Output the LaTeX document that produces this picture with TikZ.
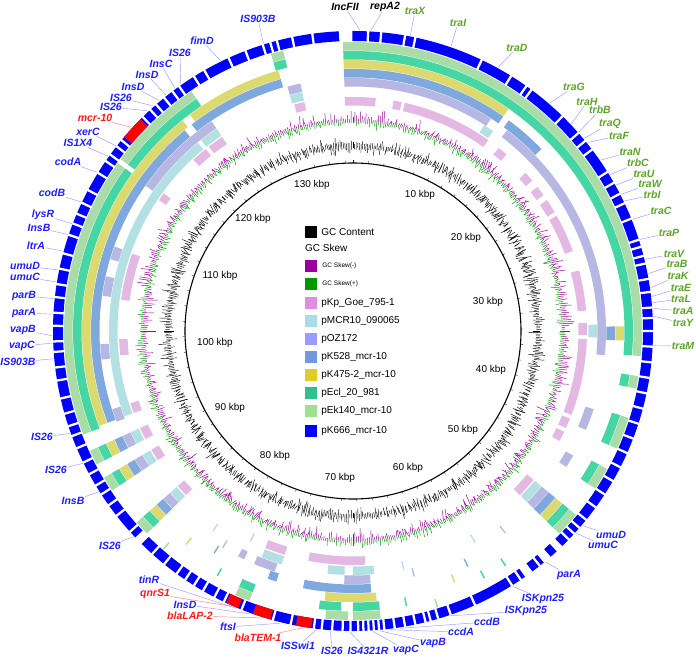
\documentclass[tikz,border=0pt]{standalone}
\usepackage{fontspec}
\setmainfont{Liberation Sans}
\usetikzlibrary{positioning}

\definecolor{refblue}{HTML}{0000FF}
\definecolor{ekgreen}{HTML}{A9DCA6}
\definecolor{eclteal}{HTML}{45D6A4}
\definecolor{kyellow}{HTML}{DCDA6E}
\definecolor{ksteel}{HTML}{7FA8DE}
\definecolor{ozlav}{HTML}{B7B7E3}
\definecolor{mcrcyan}{HTML}{B3E0E3}
\definecolor{kppink}{HTML}{E3B8E3}
\definecolor{lgpink}{HTML}{DD8FDD}
\definecolor{lgcyan}{HTML}{A8DDE8}
\definecolor{lglav}{HTML}{9B9BFF}
\definecolor{lgsteel}{HTML}{7299E0}
\definecolor{lgyellow}{HTML}{E0CC22}
\definecolor{lgteal}{HTML}{2EC18D}
\definecolor{lggreen}{HTML}{9EE08E}
\definecolor{skneg}{HTML}{990099}
\definecolor{skpos}{HTML}{009900}
\definecolor{lblblue}{HTML}{1E1EFF}
\definecolor{lblgreen}{HTML}{5FA52A}
\definecolor{lblred}{HTML}{FF1A1A}
\definecolor{leadblue}{HTML}{9A9AFF}
\definecolor{leadred}{HTML}{FF7F7F}

% band of a ring: colour, inner r, outer r, from, to (degrees clockwise from top)
\newcommand{\band}[5]{\fill[#1] ({90-(#4)}:#3) arc[start angle={90-(#4)}, end angle={90-(#5)}, radius=#3]
  -- ({90-(#5)}:#2) arc[start angle={90-(#5)}, end angle={90-(#4)}, radius=#2] -- cycle;}

\begin{document}
\begin{tikzpicture}
[x=1pt, y=1pt,
lab/.style={font=\bfseries\itshape\fontsize{10.5}{12}\selectfont, inner sep=0.5pt},
blab/.style={lab, text=lblblue},
glab/.style={lab, text=lblgreen},
rlab/.style={lab, text=lblred},
klab/.style={lab, text=black},
lead/.style={draw=leadblue, line width=0.45pt},
rlead/.style={draw=leadred, line width=0.45pt},
kbp/.style={font=\fontsize{10}{12}\selectfont},
sq/.style={minimum size=12pt, inner sep=0pt},
lgtxt/.style={font=\fontsize{10}{12}\selectfont, inner sep=1pt},
smtxt/.style={font=\fontsize{6.5}{8}\selectfont, inner sep=1pt},
skn/.style={draw=skneg, line width=0.5pt},
skp/.style={draw=skpos, line width=0.5pt},
gcl/.style={draw=black, line width=0.45pt}]

\fill[white] (-353,-325) rectangle (343,331);
\useasboundingbox (-353,-325) rectangle (343,331);

% comparison rings, outside in
\foreach \c/\ri/\ro/\segs in {
 ekgreen/280.5/289/{-16.5/-14, -2/95, 99/101.5, 107.5/114, 118.5/123, 129.5/134.5, 174.5/180, 181/185.5, 201/204, 225.5/228.5, 236.5/239.5, 242.5/245.5, 249/305.5, 306.5/326},
 eclteal/271.5/280/{-16.5/-14, -2/95, 99/101.5, 107.5/114, 118.5/123, 129.5/134.5, 174.5/180, 182.5/187, 201/204, 225.5/228.5, 236.5/239.5, 242.5/245.5, 249/305.5, 306.5/326},
 kyellow/262.5/271/{-2/35, 89/92, 129.5/134.5, 175/186, 225.5/228.5, 236.5/239.5, 242.5/245.5, 249.5/321, 323/344},
 ksteel/253.5/262/{-2/35, 36.5/46, 89/92, 129.5/134.5, 176/191, 197/199, 225.5/228.5, 236.5/239.5, 242.5/245.5, 249.5/320, 322/344},
 ozlav/244.5/253/{-15/-12, -2/33, 37.5/95.5, 108/113, 119.5/122.5, 129.5/134.5, 176/182, 198/203, 205.5/207, 225.5/228.5, 236.5/239.5, 242.5/245.5, 249/252, 263.5/267, 278/282.5, 286.5/289.5, 305/326},
 mcrcyan/235.5/244/{-15/-12, 32.5/35, 88.5/91.5, 129.5/134.5, 175/180, 182/186, 197/202, 225.5/228.5, 236.5/239.5, 242.5/245.5, 249.5/320.5, 321.5/326},
 kppink/225.5/234/{-14.5/-12, -2/5.6, 10/12, 12.8/35.3, 38.5/41, 47.5/50, 52/54.5, 56/59.5, 60.5/70, 75/85, 88/91, 92/111, 112/114.5, 115.5/118, 129.5/134.5, 177/191, 197/202, 225.5/228.5, 236.5/239.5, 242.5/245.5, 249.5/252, 264/268, 277.7/289.3, 304/306, 317/321, 322/326}}
{\foreach \s/\e in \segs {\band{\c}{\ri}{\ro}{\s}{\e}}}

% small hits
\foreach \c/\ri/\ro/\g in {ozlav/244.5/253/143, mcrcyan/235.5/244/150, eclteal/271.5/280/147,
 eclteal/271.5/280/152, kyellow/262.5/271/158, ksteel/253.5/262/154, ekgreen/280.5/289/163,
 ozlav/244.5/253/166, mcrcyan/235.5/244/168, eclteal/271.5/280/169, ksteel/253.5/262/212,
 eclteal/271.5/280/209, mcrcyan/235.5/244/215, kyellow/262.5/271/218, ekgreen/280.5/289/221,
 ozlav/244.5/253/211, kppink/225.5/234/206}
{\band{\c}{\ri}{\ro}{\g-0.15}{\g+0.15}}

% reference plasmid pK666_mcr-10
\band{refblue}{290}{300}{0}{360}
\foreach \g in {2.9, 5.4, 10, 12, 25.4, 31.8, 35.3, 36.5, 44.3, 48.7, 50.7, 52.8, 58, 60.4, 62.8,
 64.8, 68, 72.3, 73.7, 75.5, 77, 80, 82.5, 85.5, 87.5, 90, 93, 96, 99, 102, 105, 108, 111, 114,
 117, 120, 123, 126, 129, 131, 132.5, 134, 137, 141.5, 146, 148, 156, 161, 163.5, 165, 166, 168,
 170, 172, 174, 175, 176, 177, 178, 179, 180.5, 182, 184, 186, 187.5, 192, 195.5, 201.8, 205.5,
 207.5, 210, 212, 214, 216, 219, 222, 228, 232, 234.5, 237, 239, 241.5, 244, 247, 249.5, 251.5,
 254, 257, 260.5, 263, 266, 268, 271, 273.5, 276.5, 279, 282, 285, 288.7, 291, 293, 295.3, 298,
 301.8, 304.5, 306, 308, 309.5, 315.5, 317.5, 319, 321, 323, 324.6, 328, 330.3, 335.5, 339,
 342.5, 344, 345.3, 348.3, 352.2}
{\band{white}{289}{301}{\g-0.22}{\g+0.22}}
\foreach \s/\e in {357.3/359.9, 224.8/226.5, 138.8/140.5, 143.3/145, 135.8/136.8}
{\band{white}{289}{301}{\s}{\e}}
\foreach \s/\e in {310.3/314.9, 202.5/205, 196/199.5, 188/191}
{\band{red}{290}{300}{\s}{\e}}

% GC skew and GC content
\pgfmathsetseed{137}
\foreach \a in {0,0.5,...,359.5}{
 \pgfmathsetmacro\skw{(\a<112 || \a>282) ? 1 : -1}
 \draw[skn] ({90-\a}:210) -- ({90-\a}:{210+\skw*(1.5+12*rnd*rnd)});
 \draw[skp] ({90-\a}:210) -- ({90-\a}:{210-\skw*(1.5+8*rnd*rnd)});
 \draw[gcl] ({90-\a}:{185-1.5-9*rnd*rnd}) -- ({90-\a}:{185+1.5+9*rnd*rnd});
}

% backbone circle and scale
\draw[line width=1.1pt] (0,0) circle[radius=168];
\foreach \k in {0,2,...,136} \draw[line width=0.3pt] ({90-\k/137*360}:168) -- ({90-\k/137*360}:170.5);
\foreach \x/\y/\k in {67/136/10, 113/93/20, 135/29/30, 138/-39/40, 110/-99/50, 55/-137/60,
 -13/-147/70, -78/-125/80, -123/-77/90, -138/-12/100, -133/55/110, -100/112/120, -41/146/130}
 \node[kbp] (k\k) at (\x,\y) {\k\ kbp};

% legend
\node[sq, fill=black] (gcsq) at (-42,99) {};
\node[lgtxt, right=3pt of gcsq] (gctx) {GC Content};
\node[lgtxt, anchor=west] (skewtx) at (-49,83) {GC Skew};
\node[sq, fill=skneg] (sknsq) at (-42,65) {};
\node[smtxt, right=4pt of sknsq] (skntx) {GC Skew(-)};
\node[sq, fill=skpos] (skpsq) at (-42,47) {};
\node[smtxt, right=4pt of skpsq] (skptx) {GC Skew(+)};
\foreach \y/\c/\t [count=\i] in {28/lgpink/pKp\_Goe\_795-1, 10/lgcyan/pMCR10\_090065,
 -8/lglav/pOZ172, -26/lgsteel/pK528\_mcr-10, -44/lgyellow/pK475-2\_mcr-10,
 -62/lgteal/pEcl\_20\_981, -80/lggreen/pEk140\_mcr-10, -100/refblue/pK666\_mcr-10}
{\node[sq, fill=\c] (sq\i) at (-42,\y) {};
 \node[lgtxt, right=3pt of sq\i] (tx\i) {\t};}

% gene labels
\foreach \x/\y/\a/\n in {-95/312/342.7/IS903B, -151/290/333.9/fimD, -173/278/325.1/IS26,
 -192/267/323.7/InsC, -206/256/321.6/InsD, -220/244/320/InsD, -232/233/318.4/IS26,
 -242/224/317/IS26, -265/199/308/xerC, -275/188/305.5/IS1X4, -285/169/301.8/codA,
 -301/138/295.4/codB, -310/116/290.9/lysR, -314/103/288.7/InsB, -317/85/285.4/ltrA,
 -328/65/281.7/umuD, -328/54/279.4/umuC, -329/35/276.2/parB, -329/18/273.2/parA,
 -330/1/269.1/vapB, -331/-15/267.7/vapC, -335/-31/264.7/IS903B, -311/-106/250.1/IS26,
 -297/-139/243.9/IS26, -280/-170/237.7/InsB, -243/-215/226.9/IS26, -204/-249/203/tinR,
 -168/-273.5/199.9/InsD, -125/-296/193.9/ftsI, -55/-315/187/ISSwi1, -21/-320/184.3/IS26,
 15/-320/180.6/IS4321R, 53/-319/176.2/vapC, 80/-312/174.9/vapB, 108/-301/173/ccdA,
 134/-291/171/ccdB, 173/-280/161.1/ISKpn25, 190/-268/148/ISKpn25, 216/-244/140.2/parA,
 258/-204/130.3/umuD, 250/-214/132.2/umuC}
{\node[blab] (\n) at (\x,\y) {\n};
 \coordinate (\n-e) at ({90-\a}:301);
 \draw[lead] (\n) -- (\n-e);}

\foreach \x/\y/\a/\n in {-258/213/312.6/mcr-10, -198/-263/203.9/qnrS1,
 -163/-285/197.6/blaLAP-2, -95/-306.5/189.6/blaTEM-1}
{\node[rlab] (\n) at (\x,\y) {\n};
 \coordinate (\n-e) at ({90-\a}:301);
 \draw[rlead] (\n) -- (\n-e);}

\foreach \x/\y/\a/\n in {62/320/11/traX, 105/308/19/traI, 164/283/28.8/traD, 221/244/40.8/traG,
 234/229/46.5/traH, 247/221/48.6/trbB, 257/207/50.2/traQ, 266/195/51.2/traF, 277/179/55.4/traN,
 285/168/58.7/trbC, 291/157/61/traU, 297/147/63/traW, 299/136/64.4/trbI, 308/120/68.2/traC,
 316/98/72.3/traP, 321/77/76.2/traV, 324/67/79/traB, 325/55/81.7/traK, 328/43/83.4/traE,
 328/32/84.6/traL, 330/20/85.7/traA, 330/8/87.2/traY, 330/-15/92.8/traM}
{\node[glab] (\n) at (\x,\y) {\n};
 \coordinate (\n-e) at ({90-\a}:301);
 \draw[lead] (\n) -- (\n-e);}

\node[klab] (incfii) at (-8,324) {IncFII};
\node[klab] (repa2) at (32,324) {repA2};
\coordinate (incfii-e) at ({90-1.3}:301);
\coordinate (repa2-e) at ({90-3.4}:301);
\draw[lead] (incfii) -- (incfii-e);
\draw[lead] (repa2) -- (repa2-e);
\end{tikzpicture}
\end{document}
